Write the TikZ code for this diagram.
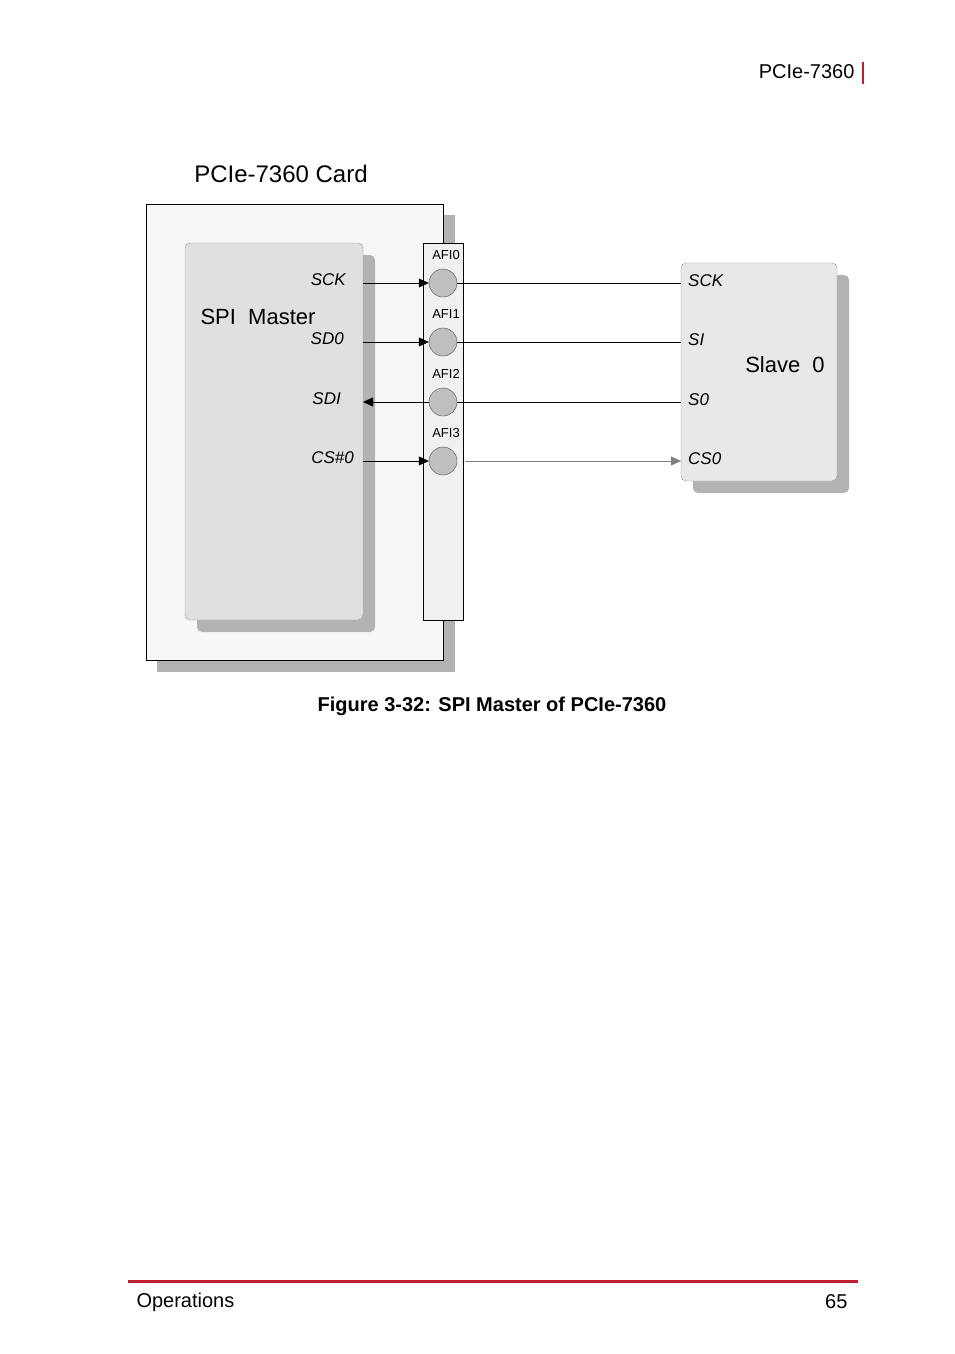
\documentclass[tikz,border=0pt]{standalone}
\usepackage{fontspec}
\setmainfont{Liberation Sans}
\usetikzlibrary{arrows.meta}
\definecolor{redline}{RGB}{190,30,45}
\definecolor{shadowgray}{RGB}{178,178,178}
\begin{document}
\begin{tikzpicture}[x=1pt,y=-1pt,
  pin/.style={circle,draw=black!70,fill=black!25,minimum size=28pt,inner sep=0pt},
  sig/.style={font=\fontsize{17}{17}\selectfont\itshape,inner sep=0pt},
  afi/.style={font=\fontsize{13}{13}\selectfont,inner sep=0pt},
  tip/.style={-{Triangle[length=10pt,width=9pt]}}]
  \useasboundingbox (0,0) rectangle (954,1354);
  % header and footer
  \node[anchor=east,font=\fontsize{20}{20}\selectfont] (hdr) at (858,72) {PCIe-7360};
  \draw[redline,line width=2.5pt] (863,62) -- (863,84);
  \draw[redline,line width=3pt] (128,1281) -- (858,1281);
  \node[anchor=west,font=\fontsize{20}{20}\selectfont] (sec) at (133,1302) {Operations};
  \node[anchor=east,font=\fontsize{20}{20}\selectfont] (pg) at (851,1302) {65};
  % card
  \node[font=\fontsize{24}{24}\selectfont] (title) at (281,174) {PCIe-7360 Card};
  \fill[shadowgray] (157,215) rectangle (455,672);
  \draw[fill=black!3] (146,204) rectangle (443,660);
  \fill[shadowgray,rounded corners=5pt] (197,255) rectangle (375,632);
  \draw[black!40,fill=black!12,rounded corners=5pt] (185,243) rectangle (363,620);
  \node[font=\fontsize{22}{22}\selectfont] (spi) at (258,317) {SPI\ \ Master};
  \draw[fill=black!6] (423,243) rectangle (463,620);
  % slave
  \fill[shadowgray,rounded corners=5pt] (693,275) rectangle (849,493);
  \draw[black!40,fill=black!9,rounded corners=5pt] (681,263) rectangle (837,481);
  \node[font=\fontsize{22}{22}\selectfont] (slv) at (785,365) {Slave\ \ 0};
  % pins
  \foreach \m/\s/\y/\r [count=\i from 0] in {SCK/SCK/283/346,SD0/SI/342/344,SDI/S0/402/341,CS\#0/CS0/461/354}{
    \node[pin] (p\i) at (443,\y) {};
    \node[afi] (a\i) at (446,\y-28) {AFI\i};
    \coordinate (m\i) at (363,\y);
    \coordinate (s\i) at (681,\y);
    \node[sig,anchor=east] (ml\i) at (\r,\y-3) {\m};
    \node[sig,anchor=west] (sl\i) at (688,\y-2) {\s};
  }
  \draw[tip] (m0) -- (p0.west);
  \draw[tip] (m1) -- (p1.west);
  \draw[tip] (p2.west) -- (m2);
  \draw[tip] (m3) -- (p3.west);
  \draw (p0.east) -- (s0);
  \draw (p1.east) -- (s1);
  \draw (p2.east) -- (s2);
  \draw[tip,black!50] ([xshift=8pt]p3.east) -- (s3);
  % caption
  \node[font=\bfseries\fontsize{20}{20}\selectfont] (cap) at (492,706) {Figure 3-32: SPI Master of PCIe-7360};
\end{tikzpicture}
\end{document}
